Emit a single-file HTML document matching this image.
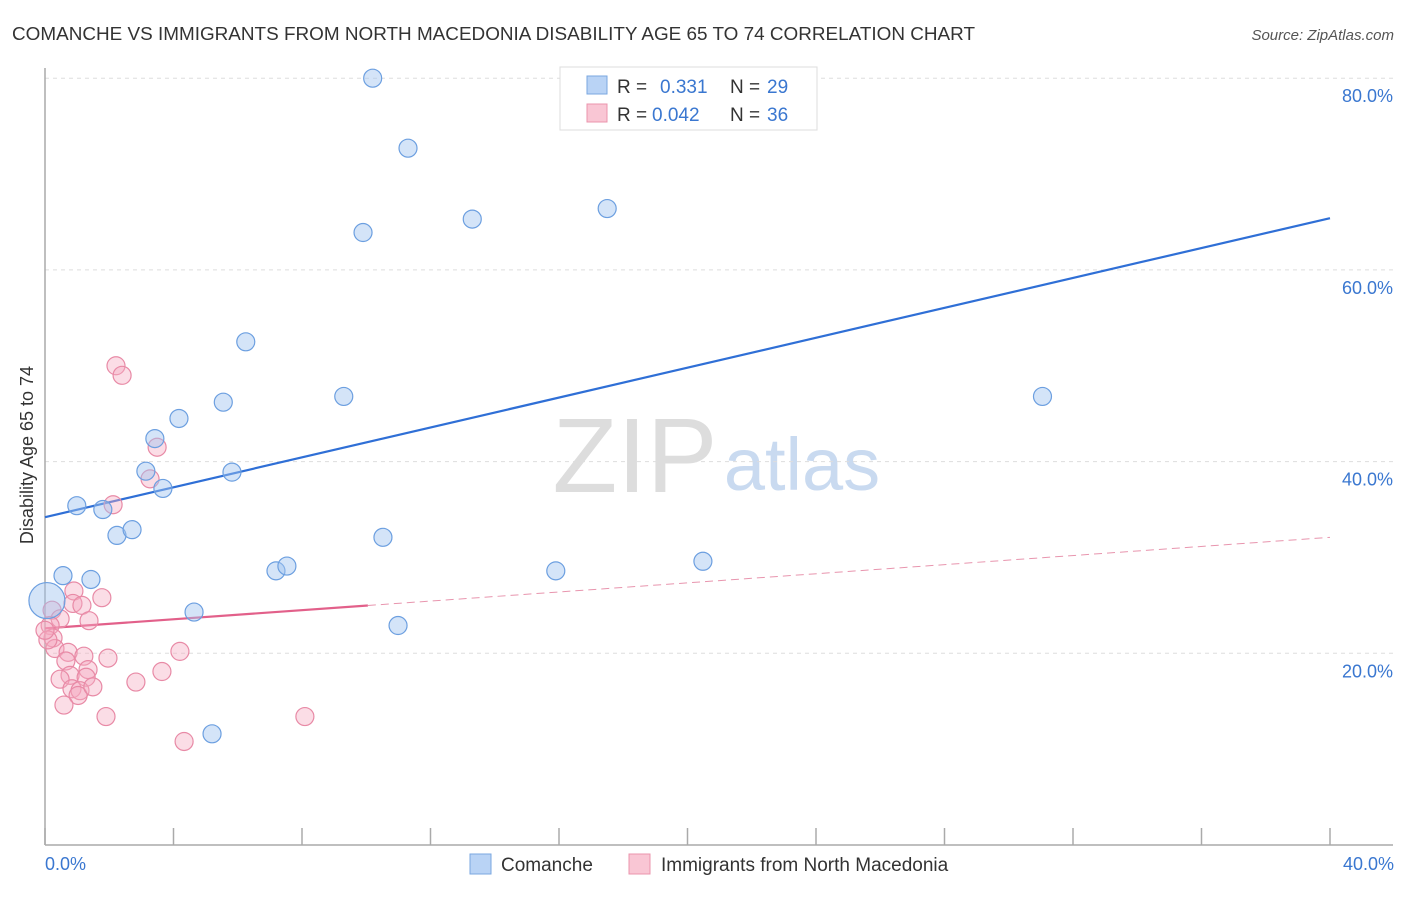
<!DOCTYPE html>
<html><head><meta charset="utf-8"><style>
body{margin:0;background:#fff;font-family:"Liberation Sans",sans-serif;}
svg text{font-family:"Liberation Sans",sans-serif;}
</style></head><body>
<svg id="c" width="1406" height="892" xmlns="http://www.w3.org/2000/svg">
<text x="12" y="40" font-size="18" fill="#333" textLength="963" lengthAdjust="spacingAndGlyphs">COMANCHE VS IMMIGRANTS FROM NORTH MACEDONIA DISABILITY AGE 65 TO 74 CORRELATION CHART</text>
<text x="1394" y="40" font-size="15" fill="#555" font-style="italic" text-anchor="end">Source: ZipAtlas.com</text>
<g><text x="635" y="492" font-size="106" fill="#ddd" font-family="Liberation Serif" text-anchor="middle">ZIP</text><text x="802" y="490" font-size="74" fill="#c9daf0" text-anchor="middle">atlas</text></g>
<g id="grid"></g><g id="axes"></g><g id="lines"></g><g id="pts"></g>
<text transform="translate(33,455) rotate(-90)" font-size="18" fill="#333" text-anchor="middle">Disability Age 65 to 74</text>
<g>
<rect x="560" y="67" width="257" height="63" fill="#fff" stroke="#ddd"/>
<rect x="587" y="76" width="20" height="18" fill="#b9d3f5" stroke="#7aa7e0"/>
<text x="617" y="93" font-size="19" fill="#333">R =</text><text x="660" y="93" font-size="19" fill="#3a77d0">0.331</text>
<text x="730" y="93" font-size="19" fill="#333">N =</text><text x="767" y="93" font-size="19" fill="#3a77d0">29</text>
<rect x="587" y="104" width="20" height="18" fill="#f9c6d4" stroke="#eb94ad"/>
<text x="617" y="121" font-size="19" fill="#333">R =</text><text x="652" y="121" font-size="19" fill="#3a77d0">0.042</text>
<text x="730" y="121" font-size="19" fill="#333">N =</text><text x="767" y="121" font-size="19" fill="#3a77d0">36</text>
</g>
<g>
<rect x="470" y="854" width="21" height="20" fill="#b9d3f5" stroke="#7aa7e0"/>
<text x="501" y="871" font-size="19" fill="#333">Comanche</text>
<rect x="629" y="854" width="21" height="20" fill="#f9c6d4" stroke="#eb94ad"/>
<text x="661" y="871" font-size="19" fill="#333">Immigrants from North Macedonia</text>
</g>
<text x="45" y="870" font-size="18" fill="#3a77d0">0.0%</text>
<text x="1394" y="870" font-size="18" fill="#3a77d0" text-anchor="end">40.0%</text>
</svg>
<script>
const yTicks=[20,40,60,80];
const xTicks=[0,4,8,12,16,20,24,28,32,36,40];
const blueX=[10.2,11.3,9.9,13.3,17.5,6.25,5.55,4.17,3.42,9.3,31.05,3.14,5.82,3.67,0.99,1.8,2.24,2.71,10.52,7.19,7.53,15.9,20.48,0.56,1.43,4.64,10.99,5.2,0.06];
const blueY=[80,72.7,63.9,65.3,66.4,52.5,46.2,44.5,42.4,46.8,46.8,39.0,38.9,37.2,35.4,35.0,32.3,32.9,32.1,28.6,29.1,28.6,29.6,28.1,27.7,24.3,22.9,11.6,25.5];
const blueR=[9,9,9,9,9,9,9,9,9,9,9,9,9,9,9,9,9,9,9,9,9,9,9,9,9,9,9,9,18];
const pinkX=[2.21,2.4,3.49,3.27,2.12,0.22,0.47,0.9,0.87,1.15,1.77,1.37,0.16,0.25,0.31,0.72,0.65,1.21,1.96,0.78,1.34,1.28,0.47,0.84,1.09,1.03,1.49,2.83,3.64,4.2,0.59,1.899,8.09,4.33,0.09,0];
const pinkY=[50.0,49.0,41.5,38.2,35.5,24.5,23.6,26.5,25.2,25.0,25.8,23.4,22.9,21.6,20.5,20.1,19.2,19.7,19.5,17.7,18.3,17.5,17.3,16.3,16.1,15.6,16.5,17.0,18.1,20.2,14.6,13.4,13.4,10.8,21.4,22.4];
const blueFit=[34.2,0.78];
const pinkFit=[22.6,0.2375];
const pinkSolidEnd=10.05;
const X=v=>45+v/40*1285, Y=v=>845-v/100*958.5;
const NS="http://www.w3.org/2000/svg";
function mk(p,t,a){const e=document.createElementNS(NS,t);for(const k in a)e.setAttribute(k,a[k]);document.getElementById(p).appendChild(e);return e;}
yTicks.forEach(v=>{
 const g=mk('grid','line',{x1:45,x2:1393,y1:Y(v),y2:Y(v),stroke:'#ddd','stroke-dasharray':'4,4'});
 
 
 const t=mk('grid','text',{x:1393,y:Y(v)+24,'font-size':18,fill:'#3a77d0','text-anchor':'end'});t.textContent=v.toFixed(1)+'%';
 
 
});
const ax=mk('axes','line',{x1:45,x2:45,y1:68,y2:845,stroke:'#aaa','stroke-width':1.5});


const ax2=mk('axes','line',{x1:45,x2:1393,y1:845,y2:845,stroke:'#aaa','stroke-width':1.5});


xTicks.forEach(v=>{const t=mk('axes','line',{x1:X(v),x2:X(v),y1:828,y2:845,stroke:'#aaa','stroke-width':1.5});
 
 });
pinkX.forEach((x,i)=>{const c=mk('pts','circle',{cx:X(x),cy:Y(pinkY[i]),r:9,fill:'rgba(246,170,192,0.4)',stroke:'#e88aa6','stroke-width':1.2});
 
 });
blueX.forEach((x,i)=>{const c=mk('pts','circle',{cx:X(x),cy:Y(blueY[i]),r:blueR[i],fill:'rgba(160,195,240,0.45)',stroke:'#6c9fe0','stroke-width':1.2});
 
 });
const bl=mk('lines','line',{x1:X(0),y1:Y(blueFit[0]),x2:X(40),y2:Y(blueFit[0]+40*blueFit[1]),stroke:'#2f6fd6','stroke-width':2.2});


const pl=mk('lines','line',{x1:X(0),y1:Y(pinkFit[0]),x2:X(pinkSolidEnd),y2:Y(pinkFit[0]+pinkSolidEnd*pinkFit[1]),stroke:'#e2608a','stroke-width':2.2});


const pd=mk('lines','line',{x1:X(pinkSolidEnd),y1:Y(pinkFit[0]+pinkSolidEnd*pinkFit[1]),x2:X(40),y2:Y(pinkFit[0]+40*pinkFit[1]),stroke:'#e895ae','stroke-width':1,'stroke-dasharray':'8,5'});


</script>
</body></html>
